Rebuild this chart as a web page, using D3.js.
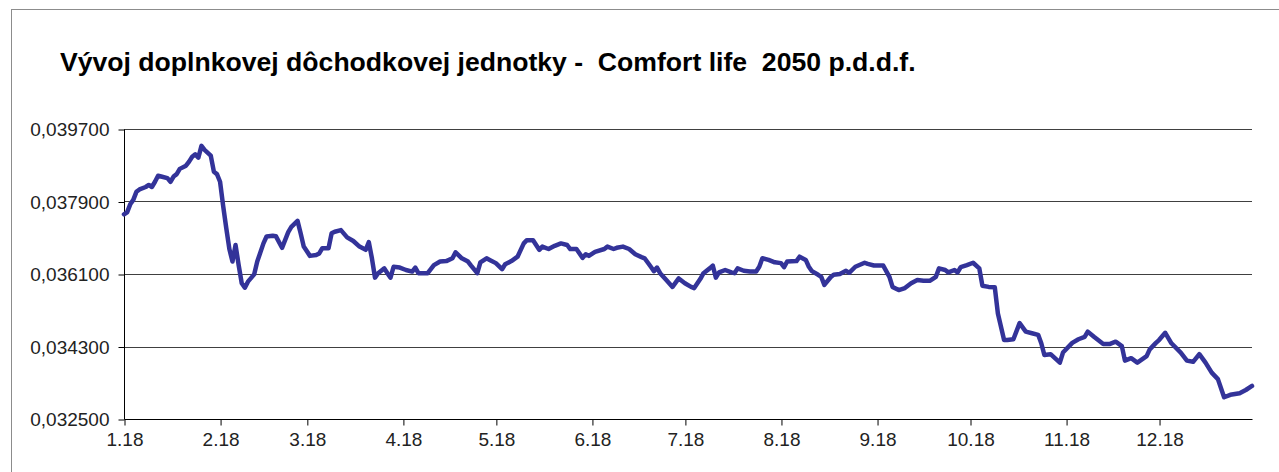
<!DOCTYPE html>
<html>
<head>
<meta charset="utf-8">
<script src="https://cdn.jsdelivr.net/npm/d3@7"></script>
<style>
  body { margin: 0; background: #fff; }
  text { font-family: "Liberation Sans", Arial, sans-serif; }
</style>
</head>
<body>
<div id="chart"></div>
<script>
const title = "Vývoj doplnkovej dôchodkovej jednotky -  Comfort life  2050 p.d.d.f.";

// y axis ticks (value of one unit)
const yTicks = [0.0325, 0.0343, 0.0361, 0.0379, 0.0397];

// dates of the series
const dates = [
  "2018-01-01","2018-01-02","2018-01-03","2018-01-04","2018-01-05","2018-01-06","2018-01-08","2018-01-09","2018-01-10","2018-01-11",
  "2018-01-12","2018-01-13","2018-01-15","2018-01-16","2018-01-17","2018-01-18","2018-01-19","2018-01-21","2018-01-22","2018-01-23",
  "2018-01-24","2018-01-25","2018-01-26","2018-01-27","2018-01-29","2018-01-30","2018-01-31","2018-02-01","2018-02-02","2018-02-03",
  "2018-02-04","2018-02-05","2018-02-06","2018-02-07","2018-02-08","2018-02-09","2018-02-10","2018-02-12","2018-02-13","2018-02-15",
  "2018-02-16","2018-02-18","2018-02-19","2018-02-21","2018-02-23","2018-02-24","2018-02-26","2018-02-27","2018-02-28","2018-03-02",
  "2018-03-04","2018-03-05","2018-03-06","2018-03-08","2018-03-09","2018-03-10","2018-03-12","2018-03-14","2018-03-16","2018-03-18",
  "2018-03-20","2018-03-21","2018-03-22","2018-03-23","2018-03-24","2018-03-26","2018-03-27","2018-03-28","2018-03-29","2018-03-31",
  "2018-04-02","2018-04-04","2018-04-05","2018-04-06","2018-04-09","2018-04-11","2018-04-13","2018-04-15","2018-04-17","2018-04-18",
  "2018-04-20","2018-04-22","2018-04-23","2018-04-25","2018-04-26","2018-04-28","2018-04-29","2018-05-01","2018-05-03","2018-05-04",
  "2018-05-06","2018-05-08","2018-05-10","2018-05-11","2018-05-13","2018-05-15","2018-05-16","2018-05-18","2018-05-20","2018-05-22",
  "2018-05-24","2018-05-25","2018-05-27","2018-05-29","2018-05-30","2018-05-31","2018-06-02","2018-06-05","2018-06-06","2018-06-08",
  "2018-06-09","2018-06-11","2018-06-13","2018-06-15","2018-06-17","2018-06-18","2018-06-20","2018-06-21","2018-06-22","2018-06-23",
  "2018-06-25","2018-06-27","2018-06-29","2018-07-01","2018-07-03","2018-07-04","2018-07-06","2018-07-07","2018-07-09","2018-07-10",
  "2018-07-11","2018-07-12","2018-07-14","2018-07-16","2018-07-17","2018-07-18","2018-07-20","2018-07-22","2018-07-24","2018-07-25",
  "2018-07-26","2018-07-28","2018-07-30","2018-08-01","2018-08-02","2018-08-03","2018-08-06","2018-08-07","2018-08-09","2018-08-10",
  "2018-08-11","2018-08-13","2018-08-14","2018-08-15","2018-08-17","2018-08-18","2018-08-20","2018-08-22","2018-08-23","2018-08-25",
  "2018-08-28","2018-08-29","2018-08-31","2018-09-03","2018-09-05","2018-09-06","2018-09-08","2018-09-10","2018-09-12","2018-09-14",
  "2018-09-16","2018-09-18","2018-09-20","2018-09-21","2018-09-23","2018-09-24","2018-09-26","2018-09-27","2018-09-28","2018-09-30",
  "2018-10-02","2018-10-04","2018-10-05","2018-10-07","2018-10-09","2018-10-10","2018-10-12","2018-10-13","2018-10-15","2018-10-17",
  "2018-10-19","2018-10-21","2018-10-23","2018-10-24","2018-10-25","2018-10-27","2018-10-30","2018-10-31","2018-11-03","2018-11-05",
  "2018-11-07","2018-11-08","2018-11-10","2018-11-13","2018-11-15","2018-11-17","2018-11-19","2018-11-20","2018-11-22","2018-11-24",
  "2018-11-27","2018-11-28","2018-11-30","2018-12-01","2018-12-03","2018-12-05","2018-12-08","2018-12-10","2018-12-12","2018-12-14",
  "2018-12-16","2018-12-18","2018-12-20","2018-12-22","2018-12-24","2018-12-27","2018-12-29","2018-12-31"
];

// unit values
const values = [
  0.03758,0.03763,0.03783,0.03794,0.03814,0.03820,0.03826,0.03831,0.03826,0.03839,
  0.03854,0.03852,0.03848,0.03839,0.03852,0.03858,0.03871,0.03879,0.03889,0.03901,
  0.03907,0.03899,0.03928,0.03918,0.03904,0.03864,0.03858,0.03839,0.03779,0.03724,
  0.03672,0.03641,0.03682,0.03632,0.03587,0.03576,0.03591,0.03609,0.03641,0.03686,
  0.03703,0.03705,0.03704,0.03675,0.03714,0.03727,0.03742,0.03711,0.03678,0.03655,
  0.03657,0.03661,0.03674,0.03674,0.03711,0.03715,0.03719,0.03701,0.03692,0.03678,
  0.03670,0.03689,0.03649,0.03601,0.03612,0.03624,0.03612,0.03601,0.03628,0.03626,
  0.03620,0.03616,0.03626,0.03612,0.03612,0.03632,0.03641,0.03642,0.03649,0.03664,
  0.03649,0.03641,0.03631,0.03612,0.03639,0.03649,0.03645,0.03637,0.03622,0.03634,
  0.03642,0.03653,0.03686,0.03694,0.03694,0.03670,0.03678,0.03672,0.03680,0.03686,
  0.03682,0.03672,0.03672,0.03650,0.03659,0.03655,0.03665,0.03672,0.03678,0.03672,
  0.03675,0.03678,0.03672,0.03659,0.03652,0.03649,0.03628,0.03617,0.03626,0.03612,
  0.03595,0.03578,0.03599,0.03587,0.03578,0.03575,0.03598,0.03612,0.03624,0.03631,
  0.03601,0.03614,0.03620,0.03614,0.03612,0.03624,0.03618,0.03616,0.03616,0.03628,
  0.03649,0.03645,0.03639,0.03637,0.03627,0.03641,0.03642,0.03653,0.03645,0.03628,
  0.03617,0.03608,0.03603,0.03583,0.03602,0.03608,0.03610,0.03618,0.03613,0.03628,
  0.03638,0.03635,0.03631,0.03631,0.03603,0.03578,0.03570,0.03575,0.03587,0.03595,
  0.03593,0.03593,0.03603,0.03624,0.03620,0.03614,0.03620,0.03614,0.03627,0.03632,
  0.03638,0.03624,0.03581,0.03578,0.03577,0.03512,0.03446,0.03446,0.03448,0.03488,
  0.03467,0.03463,0.03459,0.03438,0.03409,0.03411,0.03390,0.03415,0.03439,0.03448,
  0.03454,0.03467,0.03454,0.03436,0.03436,0.03442,0.03431,0.03395,0.03401,0.03390,
  0.03406,0.03423,0.03439,0.03446,0.03464,0.03438,0.03415,0.03395,0.03392,0.03411,
  0.03390,0.03365,0.03349,0.03304,0.03310,0.03314,0.03322,0.03332
];

const width = 1279;
const height = 472;
const margin = { top: 129, right: 27, bottom: 53, left: 124 };

const parseDate = d3.timeParse("%Y-%m-%d");
const data = dates.map((d, i) => ({ date: parseDate(d), value: values[i] }));

const svg = d3.select("#chart")
  .append("svg")
  .attr("width", width)
  .attr("height", height);

//outer chart frame
svg.append("rect")
  .attr("x", 11.5)
  .attr("y", 9.5)
  .attr("width", width)
  .attr("height", height)
  .attr("fill", "none")
  .attr("stroke", "#8c8c8c");

svg.append("text")
  .attr("x", 60)
  .attr("y", 71)
  .attr("font-size", 26.6)
  .attr("font-weight", "bold")
  .attr("fill", "#000")
  .style("white-space", "pre")
  .text(title);

const x = d3.scaleTime()
  .domain([parseDate("2018-01-01"), parseDate("2018-12-31")])
  .range([margin.left, width - margin.right]);

const y = d3.scaleLinear()
  .domain([yTicks[0], yTicks[yTicks.length - 1]])
  .range([height - margin.bottom, margin.top]);

//gridlines
svg.append("g")
  .selectAll("line")
  .data(yTicks.slice(1))
  .join("line")
  .attr("x1", margin.left)
  .attr("x2", width - margin.right)
  .attr("y1", d => Math.round(y(d)) + 0.5)
  .attr("y2", d => Math.round(y(d)) + 0.5)
  .attr("stroke", "#404040");

const fmtY = d => d3.format(".6f")(d).replace(".", ",");

const yAxis = svg.append("g")
  .attr("transform", `translate(${margin.left + 0.5},0.5)`)
  .call(d3.axisLeft(y).tickValues(yTicks).tickSize(6).tickPadding(9).tickFormat(fmtY));

const xAxis = svg.append("g")
  .attr("transform", `translate(0.5,${height - margin.bottom + 0.5})`)
  .call(d3.axisBottom(x)
    .tickValues(d3.timeMonth.range(parseDate("2018-01-01"), parseDate("2018-12-31")))
    .tickSize(6).tickPadding(7)
    .tickFormat(d3.timeFormat("%-m.%y")));

[yAxis, xAxis].forEach(g => {
  g.select(".domain").attr("stroke", "#000");
  g.selectAll(".tick line").attr("stroke", "#000");
  g.selectAll(".tick text")
    .attr("font-size", 19)
    .attr("font-family", "'Liberation Sans', Arial, sans-serif")
    .attr("fill", "#222");
});
xAxis.select(".domain").attr("d", `M${margin.left},0H${width - margin.right}`);
yAxis.select(".domain").attr("d", `M0,${y(yTicks[0])}V${y(yTicks[yTicks.length - 1])}`);

const line = d3.line()
  .x(d => x(d.date))
  .y(d => y(d.value));

svg.append("path")
  .datum(data)
  .attr("d", line)
  .attr("fill", "none")
  .attr("stroke", "#333399")
  .attr("stroke-width", 4.5)
  .attr("stroke-linejoin", "round")
  .attr("stroke-linecap", "round");
</script>
</body>
</html>
